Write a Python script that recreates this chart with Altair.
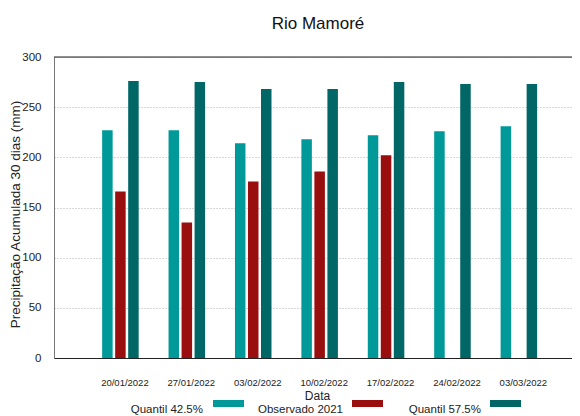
import altair as alt
import pandas as pd
import json

datas = ["20/01/2022", "27/01/2022", "03/02/2022", "10/02/2022",
         "17/02/2022", "24/02/2022", "03/03/2022"]
q425 = [227, 227, 214, 218, 222, 226, 231]
obs2021 = [166, 135, 176, 186, 202, None, None]
q575 = [276, 275, 268, 268, 275, 273, 273]
series = ["Quantil 42.5%", "Observado 2021", "Quantil 57.5%"]
colors = ["#009999", "#990f0f", "#006666"]
y_ticks = [0, 50, 100, 150, 200, 250, 300]
title_text = "Rio Mamoré"

rows = []
for i, d in enumerate(datas):
    for k, (s, vals) in enumerate(zip(series, [q425, obs2021, q575])):
        if vals[i] is not None:
            rows.append({"idx": i, "k": k, "Data": d, "Serie": s, "Valor": vals[i]})
df = pd.DataFrame(rows)

SANS = "Liberation Sans, Arial"
label_expr = json.dumps(datas) + "[datum.value]"

bars = alt.Chart(df).transform_calculate(
    pos="datum.idx + (datum.k - 1) * 0.196"
).mark_bar(size=10.5).encode(
    x=alt.X("pos:Q", scale=alt.Scale(domain=[-1, 6.8], nice=False, zero=False,
                                     padding=0),
            axis=alt.Axis(title="Data", values=list(range(len(datas))),
                          labelExpr=label_expr, labelAngle=0, ticks=False,
                          grid=False, labelBaseline="middle",
                          labelPadding=24, labelOffset=4, labelFont=SANS,
                          labelFontSize=9.5, labelColor="#222",
                          domainColor="#222", titleFont=SANS, titleFontSize=12,
                          titleFontWeight="normal", titleColor="#222",
                          titleBaseline="alphabetic", titleX=263, titleY=41)),
    y=alt.Y("Valor:Q", scale=alt.Scale(domain=[0, 300], nice=False, padding=0),
            axis=alt.Axis(values=y_ticks, title="Precipitação Acumulada 30 dias (mm)",
                          grid=True, gridDash=[1, 2], gridColor="#b0b0b0",
                          ticks=False, labelPadding=13, labelFont=SANS,
                          labelFontSize=11.5, labelColor="#222",
                          domainColor="#777", titleFont=SANS, titleFontSize=13.5,
                          titleFontWeight="normal", titleColor="#222",
                          titleBaseline="alphabetic", titleX=-35, titleY=157)),
    color=alt.Color("Serie:N", scale=alt.Scale(domain=series, range=colors),
                    legend=None),
)

top = alt.Chart(pd.DataFrame({"v": [300]})).mark_rule(color="#222").encode(
    y=alt.Y("v:Q"))

title = alt.Chart(pd.DataFrame({"t": [title_text]})).mark_text(
    font=SANS, fontSize=17, color="#111", align="center", baseline="alphabetic"
).encode(x=alt.value(264), y=alt.value(-28), text="t:N")

legend_text_x = [149, 289, 427]
legend_sw_x = [159, 298, 436]
layers = [bars, top, title]
for s, c, tx, sx in zip(series, colors, legend_text_x, legend_sw_x):
    one = pd.DataFrame({"Serie": [s]})
    layers.append(alt.Chart(one).mark_text(
        align="right", baseline="alphabetic", font=SANS, fontSize=11.5,
        color="#222").encode(x=alt.value(tx), y=alt.value(356), text="Serie:N"))
    layers.append(alt.Chart(one).mark_rect(color=c).encode(
        x=alt.value(sx), x2=alt.value(sx + 31), y=alt.value(343),
        y2=alt.value(350)))

chart = alt.layer(*layers).properties(
    width=518, height=301,
    autosize=alt.AutoSizeParams(type="none"),
    padding={"left": 46, "top": 49, "right": 0, "bottom": 58},
).configure_view(stroke=None).configure(background="white")

chart.save("out.html", embed_options={"renderer": "svg", "actions": False})
